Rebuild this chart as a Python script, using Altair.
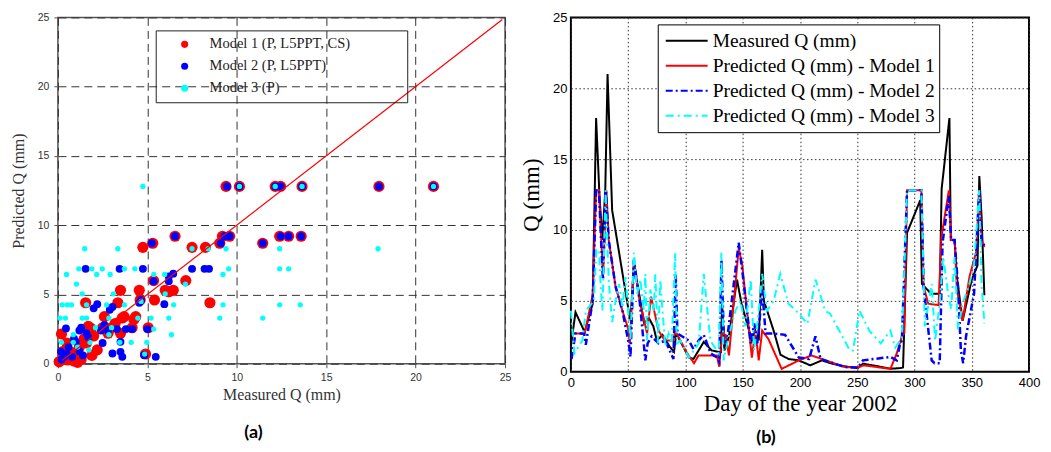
import altair as alt
import pandas as pd

SERIF = "Liberation Serif"
SANS = "Liberation Sans"
CAPTION_FONT = "Lato"

# ---------------- panel (a): scatter ----------------
MODELS = ["Model 1 (P, L5PPT, CS)", "Model 2 (P, L5PPT)", "Model 3 (P)"]
MODEL_COLORS = ["#ff0000", "#0000ff", "#00ffff"]
MODEL_SIZES = [125, 62, 28]

# (measured, predicted)
MODEL1_PTS = [
    (9.4, 12.8), (10.15, 12.8), (12.15, 12.8), (12.45, 12.8), (13.65, 12.8), (17.95, 12.8), (21.0, 12.8),
    (6.55, 9.2), (9.2, 9.2), (9.6, 9.2), (12.4, 9.2), (12.9, 9.2), (13.6, 9.2),
    (5.3, 8.7), (9.05, 8.7), (11.45, 8.7),
    (4.75, 8.4), (7.5, 8.4), (8.25, 8.4),
    (5.35, 6.0), (7.15, 6.0),
    (3.5, 5.3), (4.55, 5.3), (6.0, 5.3), (6.45, 5.3), (6.2, 5.2),
    (5.4, 4.6), (4.6, 4.6), (8.5, 4.4), (1.55, 4.4), (3.35, 4.4),
    (2.6, 3.4), (3.7, 3.4), (4.35, 3.4), (3.6, 3.3), (4.25, 3.2),
    (5.05, 2.6), (4.15, 2.6), (3.0, 2.6), (1.85, 2.55),
    (4.9, 0.7), (0.2, 2.15), (3.5, 2.2),
    (0.07, 0.14), (0.3, 0.4), (0.55, 0.27), (0.9, 0.2), (1.1, 0.1), (1.3, 0.3), (1.28, 0.5),
    (0.8, 0.8), (1.2, 1.2), (1.47, 1.8), (2.2, 1.0), (1.9, 0.6), (1.6, 1.5), (0.5, 1.5),
    (2.0, 2.0), (2.5, 2.6), (3.2, 2.9), (1.7, 2.7), (0.3, 0.9), (2.8, 2.2),
]
MODEL2_PTS = [
    (9.45, 12.8), (10.15, 12.8), (12.15, 12.8), (12.45, 12.8), (13.65, 12.8), (17.95, 12.8), (21.0, 12.8),
    (6.55, 9.2), (9.3, 9.2), (9.6, 9.2), (12.45, 9.2), (12.9, 9.2), (13.6, 9.2),
    (5.25, 8.7), (9.1, 8.7), (11.45, 8.7),
    (1.55, 6.85), (3.45, 6.85), (4.75, 6.85), (7.5, 6.85), (8.2, 6.85), (8.45, 6.85),
    (5.35, 5.95), (6.2, 5.95), (6.2, 6.3), (6.45, 6.5),
    (5.95, 4.3), (4.55, 4.4), (4.65, 4.6),
    (2.0, 4.0), (2.9, 3.9), (2.2, 4.3), (3.05, 4.1),
    (0.45, 2.55), (1.2, 2.4), (2.4, 2.4), (4.15, 2.5), (3.8, 2.5), (5.0, 2.5), (3.3, 2.5), (1.6, 2.2), (2.6, 2.8),
    (0.17, 0.87), (0.35, 0.5), (1.0, 1.6), (3.05, 0.74), (3.5, 0.86), (3.6, 0.5), (3.5, 1.58), (5.47, 0.5), (4.82, 0.62),
    (0.2, 0.3), (0.5, 0.7), (0.8, 0.5), (1.2, 0.9), (1.4, 0.6), (0.9, 1.8), (1.3, 2.6), (1.7, 1.9),
    (2.8, 2.4), (0.6, 1.2), (2.5, 1.5),
]
MODEL3_PTS = [
    (4.75, 12.8), (10.15, 12.8), (12.15, 12.8), (13.65, 12.8), (21.0, 12.8),
    (1.5, 8.3), (3.35, 8.3), (7.5, 8.3), (8.4, 8.3), (9.4, 8.3), (12.4, 8.3), (17.9, 8.3),
    (1.17, 6.85), (1.9, 6.85), (2.48, 6.85), (3.72, 6.85), (4.3, 6.85), (9.55, 6.85), (12.4, 6.85), (12.9, 6.85),
    (0.48, 6.45), (2.17, 6.45), (2.92, 6.45), (5.36, 6.45), (5.97, 6.45), (9.23, 6.45),
    (1.04, 5.75), (7.13, 5.75),
    (1.36, 5.05), (3.1, 5.05), (6.0, 5.05), (4.65, 4.5),
    (0.24, 4.25), (0.52, 4.25), (0.76, 4.25), (1.6, 4.25), (2.72, 4.25), (3.72, 4.25), (6.47, 4.25),
    (9.23, 4.25), (12.4, 4.25), (13.55, 4.25),
    (0.11, 3.3), (0.42, 3.3), (1.36, 3.3), (1.6, 3.3), (2.85, 3.3), (4.47, 3.3), (5.21, 3.3), (6.2, 3.3),
    (9.05, 3.3), (11.45, 3.3),
    (2.1, 2.6), (3.0, 2.6), (5.36, 2.5),
    (0.86, 2.1), (2.85, 2.1), (6.35, 2.1),
    (0.2, 1.55), (0.86, 1.55), (1.79, 1.55), (3.46, 1.55), (4.1, 1.55), (4.97, 1.55),
    (1.73, 1.0), (4.85, 0.7), (1.1, 1.2),
]
ONE_TO_ONE = [0.25, 24.85]
LEFT_TICKS = [0, 5, 10, 15, 20, 25]

# ---------------- panel (b): time series ----------------
SERIES = ["Measured Q (mm)", "Predicted Q (mm) - Model 1",
          "Predicted Q (mm) - Model 2", "Predicted Q (mm) - Model 3"]
SERIES_COLORS = ["#000000", "#ff0000", "#0000ff", "#00ffff"]
SERIES_DASHES = [[1, 0], [1, 0], [7, 3, 2, 3], [8, 4, 2, 4]]
SERIES_WIDTHS = [2, 2, 2.5, 2]

# (day, Q)
MEASURED = [
    (0, 1.8), (4, 4.2), (12, 2.8), (19, 4.8), (22, 17.9), (25, 12.3), (27.5, 9.3), (30, 12.8), (32, 21.0),
    (36, 11.4), (51, 4.0), (52, 3.6), (55, 7.5), (60, 5.3), (64, 3.4), (68, 3.8), (72, 3.2), (75, 2.2),
    (80, 2.6), (86, 1.8), (90, 1.4), (92, 2.7), (103, 1.0), (107, 0.9), (116, 2.1), (123, 1.5), (129, 1.4),
    (131, 1.4), (132, 4.8), (134, 1.5), (138, 2.5), (145, 6.5), (149, 4.8), (158, 2.2), (161, 2.9),
    (164, 2.2), (167, 8.6), (168.5, 5.0), (177, 2.9), (183, 1.2), (190, 0.9), (199, 0.8), (209, 0.45),
    (219, 0.8), (228, 0.57), (241, 0.35), (251, 0.28), (255, 0.57), (267, 0.4), (279, 0.21), (288, 0.26),
    (290, 0.3), (293.5, 9.8), (305, 12.1), (306.5, 6.2), (314.5, 5.5), (322, 5.5), (323.7, 12.9),
    (330.5, 17.9), (331.7, 9.3), (335, 9.3), (337, 6.7), (342, 3.6), (350, 6.5), (355, 7.5), (356.6, 13.8),
    (358.6, 10.9), (361, 5.4),
]
MODEL1 = [
    (1, 2.7), (12, 2.7), (19, 5.4), (22, 12.8), (24.5, 12.8), (26.5, 9.3), (28, 6.7), (31, 12.8), (33, 9.3),
    (39, 6.0), (45, 4.3), (50.5, 2.9), (51.5, 2.0), (55, 7.9), (60, 5.0), (66.5, 2.7), (70, 5.3), (76.5, 2.9),
    (82, 2.2), (89.5, 2.2), (91, 2.9), (101.5, 1.3), (107.5, 0.6), (111.5, 1.15), (127.5, 1.15),
    (129.5, 0.35), (132, 2.7), (135, 2.6), (138, 1.15), (146.5, 8.7), (149.5, 7.6), (158, 1.0), (161, 2.9),
    (164, 0.8), (167, 2.9), (172.5, 2.3), (184, 0.2), (199, 0.8), (210, 1.15), (219, 0.9), (239, 0.33),
    (250, 0.3), (256, 0.45), (279, 0.2), (284.5, 1.3), (289, 2.5), (291, 2.7), (293.5, 12.8), (306, 12.8),
    (308, 6.0), (312, 4.8), (321, 4.7), (323.5, 9.5), (330, 12.8), (332, 9.3), (335, 9.3), (337, 5.8),
    (342, 3.6), (348, 6.7), (354, 8.5), (356.5, 12.8), (358.5, 9.3), (361, 8.8),
]
MODEL2 = [
    (0.5, 0.9), (4, 2.7), (11.5, 2.7), (13, 1.9), (19, 5.0), (22, 12.8), (24.5, 12.8), (26.5, 9.0), (28, 6.5),
    (30.5, 12.8), (33, 9.3), (39, 6.0), (45, 4.3), (50.5, 2.0), (52, 1.05), (55, 7.9), (60, 5.0), (65, 0.8),
    (67, 2.0), (70.5, 2.5), (76.5, 2.0), (82.5, 2.2), (89.5, 0.9), (91.5, 6.9), (93, 2.7), (103, 2.2),
    (107, 1.6), (111.5, 2.2), (116, 2.6), (122, 1.3), (127.5, 1.0), (129.5, 0.7), (131.5, 7.9), (133.5, 2.5),
    (136, 2.0), (146.5, 9.1), (149.5, 7.2), (157, 2.0), (160, 3.4), (163, 2.0), (167, 5.8), (170, 2.7),
    (177, 2.7), (187, 2.6), (199, 1.0), (208, 0.9), (213.5, 2.5), (218, 0.9), (239, 0.33), (250.5, 0.28),
    (255, 0.8), (279, 1.04), (284.5, 0.8), (287.5, 2.0), (289, 2.2), (293.5, 12.8), (306, 12.8), (308, 6.0),
    (312, 3.0), (315, 0.8), (317.5, 0.6), (322, 0.6), (324.5, 9.1), (330, 12.4), (332, 9.3), (335, 9.3),
    (338, 6.0), (340.5, 1.5), (342.5, 0.6), (345, 2.5), (352, 5.5), (356.5, 12.8), (358.5, 9.3), (361, 8.9),
]
MODEL3 = [
    (0, 4.3), (3, 1.3), (10, 2.2), (13, 4.3), (20, 5.0), (22.3, 8.6), (24.6, 8.6), (26, 6.0), (27.5, 4.3),
    (29, 8.6), (30.3, 12.8), (31.8, 9.0), (33.2, 6.2), (36, 3.5), (39, 5.0), (42, 6.2), (45, 4.5), (47.7, 6.7),
    (50, 4.3), (52, 2.2), (55, 8.4), (57.8, 5.5), (60.7, 6.5), (63.6, 4.3), (65, 6.9), (66.5, 2.2), (69.4, 5.8),
    (72.3, 4.3), (73.7, 6.9), (76, 2.0), (78, 6.5), (80, 4.3), (82.4, 1.8), (85.3, 2.7), (88, 2.0), (91, 8.4),
    (92.5, 2.0), (95.6, 2.2), (103, 1.0), (111.6, 2.0), (116, 6.9), (121.8, 2.2), (129, 1.3), (131.4, 8.4),
    (133.4, 0.8), (137.8, 2.5), (143.6, 4.3), (148, 5.0), (152.3, 3.2), (157, 6.5), (160, 1.5), (164, 4.3),
    (167, 6.9), (171.2, 4.3), (177, 5.0), (182.8, 6.9), (190, 4.8), (196.6, 4.3), (206.5, 3.4), (213.6, 6.5),
    (222, 4.3), (226.4, 4.1), (243.5, 1.5), (246.3, 1.5), (252, 4.3), (260.5, 2.9), (270.5, 2.0), (279, 2.9),
    (283.2, 1.7), (287.5, 2.2), (289, 2.4), (293.5, 12.8), (306, 12.8), (309, 3.2), (315, 6.2), (318, 2.2),
    (322, 4.8), (325, 8.1), (329.4, 5.5), (332, 4.4), (335, 8.1), (338, 3.0), (342, 4.8), (348, 6.2),
    (352, 7.6), (356.5, 12.8), (358.5, 6.2), (361, 3.4),
]
RIGHT_X_TICKS = [0, 50, 100, 150, 200, 250, 300, 350, 400]
RIGHT_Y_TICKS = [0, 5, 10, 15, 20, 25]


def build(use_legend_sw=True):
    # ---- scatter data
    rows = []
    for name, pts, msize in zip(MODELS, [MODEL1_PTS, MODEL2_PTS, MODEL3_PTS], MODEL_SIZES):
        for m, p in pts:
            rows.append({"model": name, "measured": m, "predicted": p, "msize": msize})
    scatter_df = pd.DataFrame(rows)
    diag_df = pd.DataFrame({"measured": ONE_TO_ONE, "predicted": ONE_TO_ONE})

    lx_axis = alt.Axis(values=LEFT_TICKS, grid=True, gridDash=[8, 5], gridColor="#333333", gridWidth=1,
                       domain=False, tickSize=4, tickColor="#555555", labelFont=SANS, labelFontSize=10.5,
                       labelColor="#333333", labelPadding=5, labelFlush=False,
                       title="Measured Q (mm)", titleFont=SERIF, titleFontSize=16, titleFontWeight="normal",
                       titleColor="#333333", titlePadding=3)
    ly_axis = alt.Axis(values=LEFT_TICKS, grid=True, gridDash=[8, 5], gridColor="#333333", gridWidth=1,
                       domain=False, tickSize=4, tickColor="#555555", labelFont=SANS, labelFontSize=10.5,
                       labelColor="#333333", labelPadding=5, labelFlush=False,
                       title="Predicted Q (mm)", titleFont=SERIF, titleFontSize=16, titleFontWeight="normal",
                       titleColor="#333333", titlePadding=11)
    lleg_kw = dict(title=None, orient="none", legendX=98, legendY=13, strokeColor="#222222",
                   padding=3, symbolType="circle", symbolSize=50, symbolOffset=18.75,
                   labelOffset=17.75, clipHeight=22, rowPadding=0, labelFont=SERIF,
                   labelFontSize=14.5, labelColor="#222222", labelLimit=400,
                   labelExpr="datum.label + '\u2003\u2003\u2003\u2002\u2009\u200b'")
    if use_legend_sw:
        lleg_kw["strokeWidth"] = 1.2
    left_legend = alt.Legend(**lleg_kw)

    points = alt.Chart(scatter_df).mark_circle(opacity=1).encode(
        x=alt.X("measured:Q", scale=alt.Scale(domain=[0, 25], nice=False), axis=lx_axis),
        y=alt.Y("predicted:Q", scale=alt.Scale(domain=[0, 25], nice=False), axis=ly_axis),
        color=alt.Color("model:N", scale=alt.Scale(domain=MODELS, range=MODEL_COLORS), legend=left_legend),
        size=alt.Size("msize:Q", scale=None, legend=None),
    )
    diag = alt.Chart(diag_df).mark_line(color="#ff0000", strokeWidth=1.2).encode(
        x="measured:Q", y="predicted:Q")

    left = alt.layer(points, diag).properties(
        width=448, height=347,
        view=alt.ViewBackground(stroke="#555555", strokeWidth=1.5),
        title=alt.TitleParams(text="(a)", orient="bottom", anchor="middle", frame="group",
                              font=CAPTION_FONT, fontSize=18, fontWeight="bold", color="#000000",
                              offset=22, dx=-28),
    )

    # ---- time series data
    ts_rows = []
    for name, pts in zip(SERIES, [MEASURED, MODEL1, MODEL2, MODEL3]):
        for d, q in pts:
            ts_rows.append({"series": name, "day": d, "q": q})
    ts_df = pd.DataFrame(ts_rows)

    rx_axis = alt.Axis(values=RIGHT_X_TICKS, grid=True, gridDash=[1.5, 2.5], gridColor="#333333",
                       gridWidth=1, domain=False, ticks=False, labelFont=SANS, labelFontSize=13,
                       labelColor="#000000", labelPadding=5, labelFlush=False,
                       title="Day of the year 2002", titleFont=SERIF, titleFontSize=23,
                       titleFontWeight="normal", titleColor="#000000", titlePadding=3)
    ry_axis = alt.Axis(values=RIGHT_Y_TICKS, grid=True, gridDash=[1.5, 2.5], gridColor="#333333",
                       gridWidth=1, domain=False, ticks=False, labelFont=SANS, labelFontSize=13,
                       labelColor="#000000", labelPadding=4, labelFlush=False,
                       title="Q (mm)", titleFont=SERIF, titleFontSize=23,
                       titleFontWeight="normal", titleColor="#000000", titlePadding=9)
    rleg_kw = dict(title=None, orient="none", legendX=87, legendY=7, fillColor="#ffffff",
                   strokeColor="#000000", padding=4, symbolType="stroke", symbolSize=1764,
                   symbolStrokeWidth=2, symbolOffset=3, labelOffset=4, clipHeight=25, rowPadding=0,
                   labelFont=SERIF, labelFontSize=19.5, labelColor="#000000", labelLimit=400)
    if use_legend_sw:
        rleg_kw["strokeWidth"] = 2
    right_legend = alt.Legend(**rleg_kw)

    color_enc = alt.Color("series:N", scale=alt.Scale(domain=SERIES, range=SERIES_COLORS),
                          legend=right_legend)
    dash_enc = alt.StrokeDash("series:N", scale=alt.Scale(domain=SERIES, range=SERIES_DASHES),
                              legend=right_legend)
    layers = []
    for name, w in zip(SERIES, SERIES_WIDTHS):
        layers.append(
            alt.Chart(ts_df).transform_filter(alt.datum.series == name)
            .mark_line(strokeWidth=w)
            .encode(
                x=alt.X("day:Q", scale=alt.Scale(domain=[0, 400], nice=False), axis=rx_axis),
                y=alt.Y("q:Q", scale=alt.Scale(domain=[0, 25], nice=False), axis=ry_axis),
                color=color_enc,
                strokeDash=dash_enc,
                order=alt.Order("day:Q"),
            )
        )
    right = alt.layer(*layers).properties(
        width=459, height=355,
        view=alt.ViewBackground(stroke="#000000", strokeWidth=2),
        title=alt.TitleParams(text="(b)", orient="bottom", anchor="middle", frame="group",
                              font=CAPTION_FONT, fontSize=18, fontWeight="bold", color="#000000",
                              offset=13, dx=-34),
    )

    chart = alt.hconcat(left, right, spacing=7).resolve_scale(
        color="independent", size="independent", strokeDash="independent"
    ).resolve_legend(
        color="independent", size="independent", strokeDash="independent"
    ).properties(
        padding={"left": 1, "top": 2, "right": 2, "bottom": 2},
        background="#ffffff",
    )
    return chart


try:
    chart = build(True)
    chart.to_dict()
except Exception:
    chart = build(False)

chart.save("out.html", embed_options={"renderer": "svg", "actions": False})
